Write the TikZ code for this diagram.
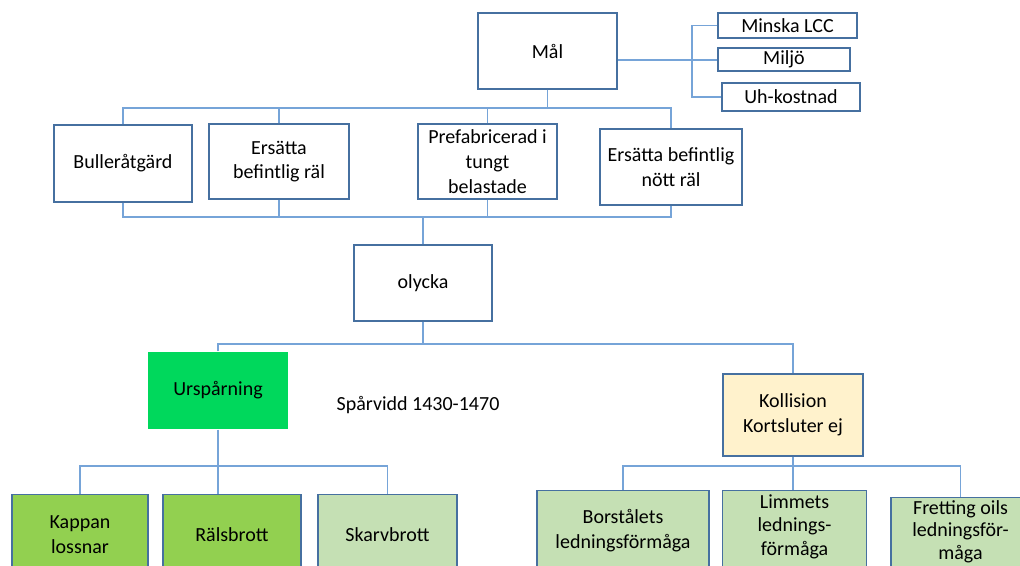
\documentclass[tikz,border=0pt]{standalone}
\usepackage{fontspec}
\setmainfont{Carlito}
\definecolor{boxline}{RGB}{70,112,160}
\definecolor{busline}{RGB}{118,164,216}
\definecolor{brightgreen}{RGB}{0,216,92}
\definecolor{midgreen}{RGB}{146,208,80}
\definecolor{palegreen}{RGB}{197,224,180}
\definecolor{paleorange}{RGB}{255,242,204}
\newcommand{\topcell}[2]{\parbox[t][75pt][t]{#1}{\centering #2}}
\begin{document}
\begin{tikzpicture}[x=0.75pt, y=-0.75pt,
  box/.style={draw=boxline, line width=1.1pt, fill=white, align=center, inner sep=1pt,
    font=\fontsize{15}{18.5}\selectfont},
  conn/.style={busline, line width=1.4pt}]
\useasboundingbox[fill=white] (0,0) rectangle (1020,566);
\node[box, minimum width=104.25pt, minimum height=57pt] (mal) at (547.5,51) {Mål};
\node[box, minimum width=104.25pt, minimum height=18.75pt] (lcc) at (787.5,25.5) {Minska LCC};
\node[box, minimum width=99pt, minimum height=17.25pt] (miljo) at (784,59.5) {Miljö};
\node[box, minimum width=103.5pt, minimum height=21pt] (uh) at (791,97) {Uh-kostnad};
\node[box, minimum width=103.5pt, minimum height=57.75pt] (bul) at (123,163.5) {Bulleråtgärd};
\node[box, minimum width=105pt, minimum height=56.25pt] (ers) at (279,161.5) {Ersätta\\befintlig räl};
\node[box, minimum width=104.25pt, minimum height=56.25pt] (pre) at (487.5,161.5) {Prefabricerad i\\tungt\\belastade};
\node[box, minimum width=106.5pt, minimum height=57pt] (nott) at (671,167) {Ersätta befintlig\\nött räl};
\node[box, minimum width=103.5pt, minimum height=57pt] (oly) at (423,283) {olycka};
\node[box, draw=none, fill=brightgreen, minimum width=105pt, minimum height=57.75pt] (ursp) at (218,390.5) {Urspårning};
\node[font=\fontsize{15}{18.5}\selectfont] (spv) at (418,405) {Spårvidd 1430-1470};
\node[box, fill=paleorange, minimum width=105pt, minimum height=61.5pt] (koll) at (793,415) {Kollision\\Kortsluter ej};
\node[box, fill=midgreen, anchor=north, minimum width=102pt, minimum height=60pt] (kap) at (80,494) {Kappan\\lossnar};
\node[box, fill=midgreen, anchor=north, minimum width=103.5pt, minimum height=60pt] (rals) at (232,494) {Rälsbrott};
\node[box, fill=palegreen, anchor=north, minimum width=104.25pt, minimum height=60pt] (skarv) at (387.5,494) {Skarvbrott};
\node[box, fill=palegreen, anchor=north, minimum width=129pt, minimum height=60pt] (bors) at (623,490) {Borstålets\\ledningsförmåga};
\node[box, fill=palegreen, anchor=north, font=\fontsize{15}{17.5}\selectfont, inner sep=3pt] (limm) at (794.5,490) {\topcell{102pt}{Limmets\\lednings-\\förmåga}};
\node[box, fill=palegreen, anchor=north, font=\fontsize{15}{17}\selectfont, inner sep=2pt] (fret) at (960.5,497) {\topcell{100pt}{Fretting oils\\ledningsför-\\måga}};
\coordinate (spine) at (692,60);
\coordinate (bus1) at (0,108);
\coordinate (bus2) at (0,217);
\coordinate (bus3) at (0,344);
\coordinate (bus4) at (0,466);
% goals
\draw[conn] (mal.east |- spine) -- (miljo.west |- spine);
\draw[conn] (lcc.west) -| (spine) |- (uh.west);
% measures
\draw[conn] (mal.south) -- (mal.south |- bus1);
\draw[conn] (bul.north) |- (nott.north |- bus1) -- (nott.north);
\draw[conn] (ers.north) -- (ers.north |- bus1);
\draw[conn] (pre.north) -- (pre.north |- bus1);
\draw[conn] (bul.south) |- (nott.south |- bus2) -- (nott.south);
\draw[conn] (ers.south) -- (ers.south |- bus2);
\draw[conn] (pre.south) -- (pre.south |- bus2);
\draw[conn] (oly.north) -- (oly.north |- bus2);
% accidents
\draw[conn] (oly.south) -- (oly.south |- bus3);
\draw[conn] (ursp.north) |- (koll.north |- bus3) -- (koll.north);
\draw[conn] (ursp.south) -- (ursp.south |- rals.north);
\draw[conn] (kap.north) |- (skarv.north |- bus4) -- (skarv.north);
\draw[conn] (koll.south) -- (koll.south |- limm.north);
\draw[conn] (bors.north) |- (fret.north |- bus4) -- (fret.north);
\end{tikzpicture}
\end{document}
